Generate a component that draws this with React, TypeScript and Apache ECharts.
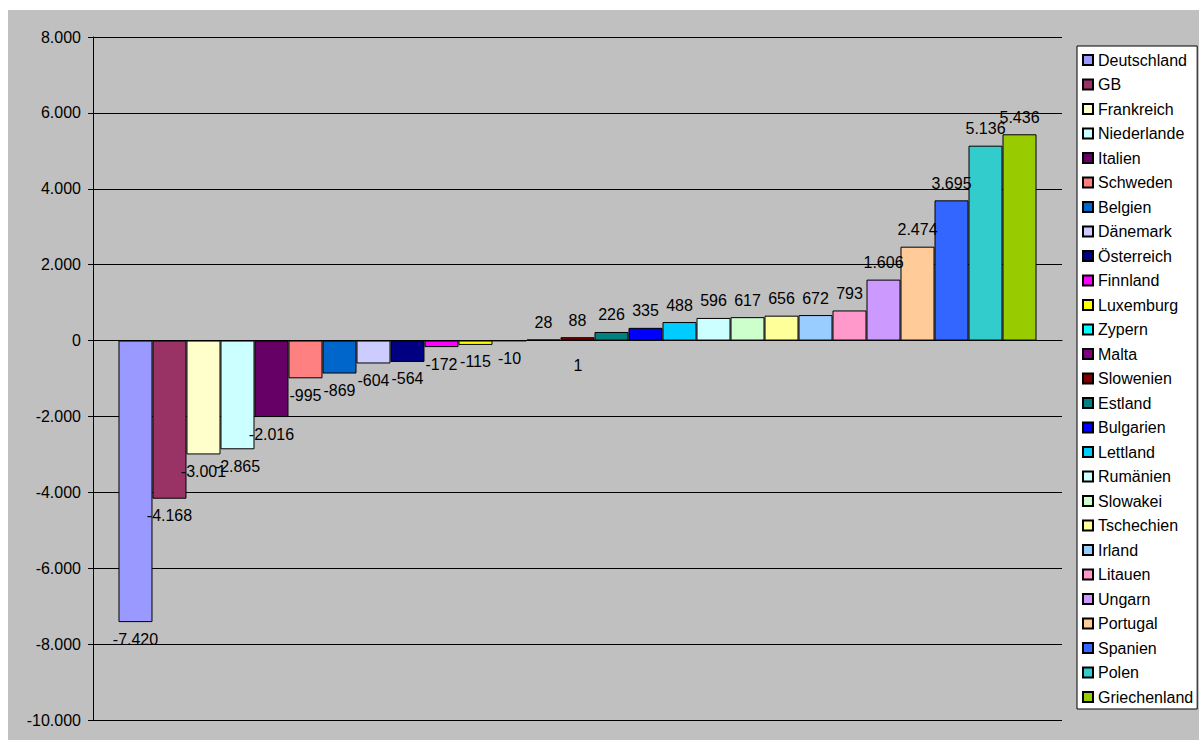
import React, { useEffect, useRef } from "react";
import * as echarts from "echarts";

const countries = [
  "Deutschland", "GB", "Frankreich", "Niederlande", "Italien", "Schweden", "Belgien",
  "Dänemark", "Österreich", "Finnland", "Luxemburg", "Zypern", "Malta", "Slowenien",
  "Estland", "Bulgarien", "Lettland", "Rumänien", "Slowakei", "Tschechien", "Irland",
  "Litauen", "Ungarn", "Portugal", "Spanien", "Polen", "Griechenland",
];

const values = [
  -7420, -4168, -3001, -2865, -2016, -995, -869, -604, -564, -172, -115, -10, 28, 88,
  226, 335, 488, 596, 617, 656, 672, 793, 1606, 2474, 3695, 5136, 5436,
];

const colors = [
  "#9999FF", "#993366", "#FFFFCC", "#CCFFFF", "#660066", "#FF8080", "#0066CC",
  "#CCCCFF", "#000080", "#FF00FF", "#FFFF00", "#00FFFF", "#800080", "#800000",
  "#008080", "#0000FF", "#00CCFF", "#CCFFFF", "#CCFFCC", "#FFFF99", "#99CCFF",
  "#FF99CC", "#CC99FF", "#FFCC99", "#3366FF", "#33CCCC", "#99CC00",
];

const extraLabel = "1";

const FONT = "'Liberation Sans', Arial, sans-serif";

function fmt(v: number): string {
  const neg = v < 0;
  const s = String(Math.abs(Math.round(v)));
  const parts: string[] = [];
  for (let i = s.length; i > 0; i -= 3) {
    parts.unshift(s.substring(Math.max(0, i - 3), i));
  }
  return (neg ? "-" : "") + parts.join(".");
}

export default function App() {
  const ref = useRef<HTMLDivElement>(null);

  useEffect(() => {
    if (!ref.current) return;
    const chart = echarts.init(ref.current, null, { renderer: "svg" });
    const series = countries.map((c, i) => ({
      name: c,
      type: "bar",
      data: [values[i]],
      itemStyle: { color: colors[i], borderColor: "#000", borderWidth: 1 },
      label: {
        show: true,
        position: values[i] >= 0 ? "top" : "bottom",
        distance: 9,
        formatter: (p: any) => fmt(p.value),
        color: "#000",
        fontSize: 16,
        fontFamily: FONT,
      },
      barGap: "0%",
      barCategoryGap: "5.26%",
    }));

    chart.setOption({
      animation: false,
      backgroundColor: "transparent",
      graphic: [
        {
          type: "rect",
          z: -10,
          silent: true,
          shape: { x: 8, y: 10, width: 1191, height: 730 },
          style: { fill: "#C0C0C0" },
        },
        {
          type: "text",
          x: 578,
          y: 365,
          z: 10,
          style: {
            text: extraLabel,
            fill: "#000",
            fontSize: 16,
            fontFamily: FONT,
            textAlign: "center",
            textVerticalAlign: "middle",
          },
        },
      ],
      grid: { left: 93, top: 37, right: 137, bottom: 20, containLabel: false },
      legend: {
        orient: "vertical",
        left: 1077,
        top: 46,
        itemWidth: 10,
        itemHeight: 10,
        itemGap: 8.5,
        padding: [6, 4, 4, 5],
        backgroundColor: "#fff",
        borderColor: "#000",
        borderWidth: 1,
        borderRadius: 0,
        icon: "rect",
        selectedMode: false,
        textStyle: { fontSize: 16, color: "#000", fontFamily: FONT, lineHeight: 16 },
        data: countries,
      },
      xAxis: {
        type: "category",
        data: [""],
        axisLine: { show: true, onZero: true, lineStyle: { color: "#000", width: 1 } },
        axisTick: { show: false },
        axisLabel: { show: false },
        splitLine: { show: false },
      },
      yAxis: {
        type: "value",
        min: -10000,
        max: 8000,
        interval: 2000,
        axisLine: { show: true, lineStyle: { color: "#000", width: 1 } },
        axisTick: { show: true, length: 5, lineStyle: { color: "#000" } },
        axisLabel: {
          color: "#000",
          fontSize: 16,
          fontFamily: FONT,
          margin: 12,
          formatter: (v: number) => fmt(v),
        },
        splitLine: { show: true, lineStyle: { color: "#000", width: 1 } },
      },
      series,
    });
    return () => chart.dispose();
  }, []);

  return (
    <div
      ref={ref}
      style={{ position: "absolute", left: 0, top: 0, width: 1199, height: 740, background: "#fff" }}
    />
  );
}
